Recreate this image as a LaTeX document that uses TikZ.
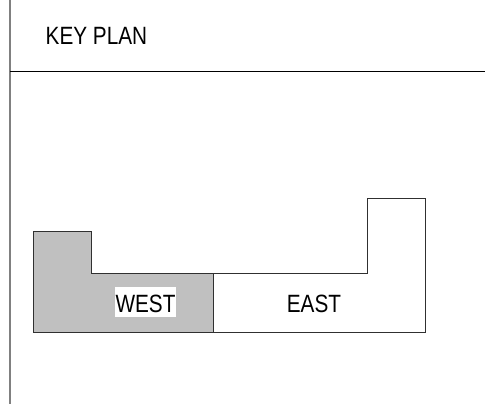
\documentclass[tikz,border=0pt]{standalone}
\usepackage{fontspec}
\setmainfont[FakeStretch=0.83]{Liberation Sans}
\definecolor{planfill}{HTML}{C0C0C0}
\definecolor{edgegray}{HTML}{303030}
\tikzset{px/.style={x=1pt,y=-1pt},planline/.style={draw=edgegray,line width=0.9pt},lbl/.style={inner sep=0pt,font=\fontsize{25}{28}\selectfont}}
\begin{document}
\begin{tikzpicture}[px]
\useasboundingbox (0,0) rectangle (485,404);
\fill[white] (0,0) rectangle (485,404);
\draw[draw=gray,line width=1.6pt] (10,0) -- (10,404);
\draw[draw=black,line width=0.8pt] (10,71) -- (485,71);
\node[lbl,anchor=base west] (key) at (45.5,45) {KEY PLAN};
\draw[planline,fill=planfill] (33.5,231.5) -- (91.5,231.5) -- (91.5,273.5) -- (213.5,273.5) -- (213.5,332) -- (33.5,332) -- cycle;
\draw[planline] (213.5,273.5) -- (367.5,273.5) -- (367.5,198.5) -- (425.5,198.5) -- (425.5,332) -- (213.5,332);
\fill[white] (115,287) rectangle (176,317);
\node[lbl,anchor=base] (west) at (145.5,312.5) {WEST};
\node[lbl,anchor=base] (east) at (314,312.5) {EAST};
\end{tikzpicture}
\end{document}
